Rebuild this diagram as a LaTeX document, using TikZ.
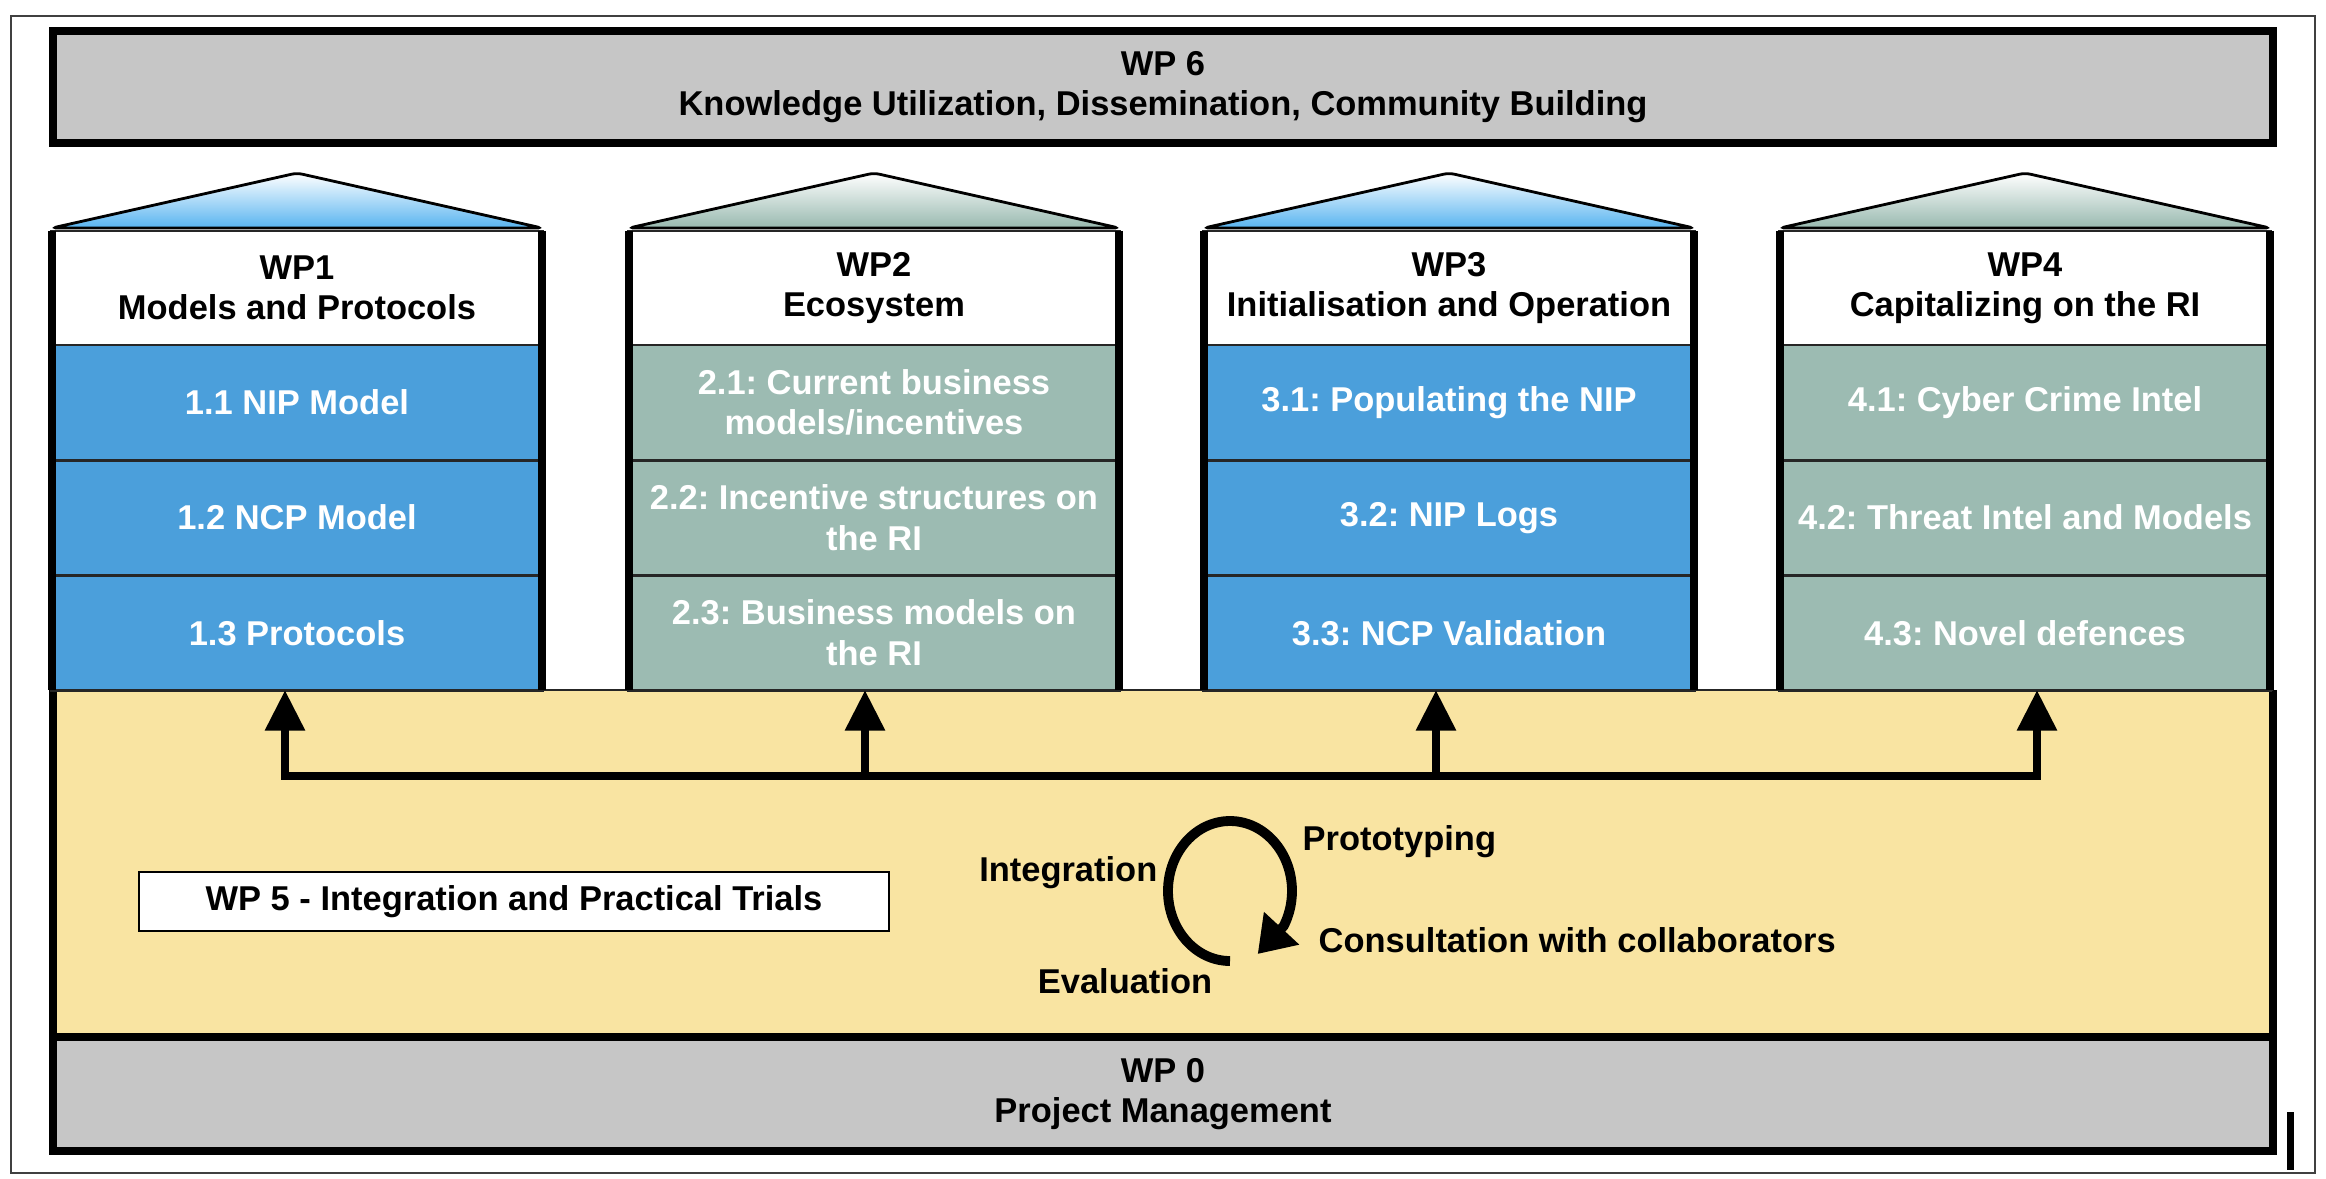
\documentclass[tikz,border=0pt]{standalone}
\usepackage{fontspec}
\setmainfont{Liberation Sans}
\usepackage{tikz}
\usetikzlibrary{arrows.meta, positioning, calc}
\frenchspacing

\definecolor{bandgrey}{HTML}{C6C6C6}
\definecolor{trialyellow}{HTML}{F9E4A2}
\definecolor{taskblue}{HTML}{4B9FDB}
\definecolor{taskgreen}{HTML}{9CBBB2}
\definecolor{roofblue}{HTML}{58B4F0}
\definecolor{roofgreen}{HTML}{98B9AF}

\begin{document}
\begin{tikzpicture}[x=0.01cm, y=-0.01cm,
    font=\fontsize{9.8pt}{11.4pt}\selectfont\bfseries,
    band/.style={draw, line width=2.3pt, fill=bandgrey, minimum width=22.18cm, inner sep=0pt, align=center},
    header/.style={draw=black!85, line width=0.8pt, fill=white, minimum width=4.9cm, minimum height=1.14cm, inner sep=0pt, outer sep=0pt, align=center},
    task/.style={header, text=white, minimum height=1.15cm},
    roof/.style={draw, line width=0.8pt, top color=white, rounded corners=1.5pt},
    heavy/.style={line width=2.3pt},
    feed/.style={line width=2.1pt, -{Triangle[width=11pt, length=11.5pt]}},
    tag/.style={inner sep=0pt}]
    \useasboundingbox (0,0) rectangle (2326,1178);

    \node [fill=trialyellow, minimum width=22.18cm, minimum height=3.47cm, inner sep=0pt, outer sep=0pt] (wp5area) at (1163,863.5) {};
    \node [band, minimum height=1.14cm] (wp0) at (1163,1094) {WP 0\\Project Management};
    \draw [heavy] (wp5area.north west) -- (wp5area.south west);
    \draw [heavy] (wp5area.north east) -- (wp5area.south east);
    \draw [line width=0.8pt, black!85] (wp5area.north west) -- (wp5area.north east);

    \foreach \n/\x/\roof/\task/\hd/\ta/\tb/\tc in {
        1/297/roofblue/taskblue/{WP1\\Models and Protocols}/{1.1 NIP Model}/{1.2 NCP Model}/{1.3 Protocols},
        2/874/roofgreen/taskgreen/{WP2\\Ecosystem}/{2.1: Current business\\models/incentives}/{2.2: Incentive structures on\\the RI}/{2.3: Business models on\\the RI},
        3/1449/roofblue/taskblue/{WP3\\Initialisation and Operation}/{3.1: Populating the NIP}/{3.2: NIP Logs}/{3.3: NCP Validation},
        4/2025/roofgreen/taskgreen/{WP4\\Capitalizing on the RI}/{4.1: Cyber Crime Intel}/{4.2: Threat Intel and Models}/{4.3: Novel defences}} {
        \shadedraw [roof, bottom color=\roof] (\x-245,228) -- (\x,173) -- (\x+245,228) -- cycle;
        \node [header] (wp\n) at (\x,288) {\hd};
        \node [task, fill=\task, below=0pt of wp\n] (t\n1) {\ta};
        \node [task, fill=\task, below=0pt of t\n1] (t\n2) {\tb};
        \node [task, fill=\task, below=0pt of t\n2] (t\n3) {\tc};
        \draw [heavy] (wp\n.north west) -- (t\n3.south west);
        \draw [heavy] (wp\n.north east) -- (t\n3.south east);
    }

    \foreach \n/\x in {1/285, 2/865, 3/1436, 4/2037}
        \coordinate (bus\n) at (\x,776);
    \draw [heavy, line cap=rect] (bus1) -- (bus4);
    \foreach \n in {1,...,4}
        \draw [feed] (bus\n) -- (bus\n |- t\n3.south);

    \node [draw, line width=0.6pt, fill=white, minimum width=7.5cm, minimum height=0.59cm, inner sep=0pt] (wp5) at (514,901.5) {WP 5 - Integration and Practical Trials};

    \coordinate (loop) at (1230,893);
    \draw [line width=2.8pt, -{Triangle[width=13pt, length=10pt]}] ($(loop)+(0,68)$) arc [start angle=90, end angle=390, x radius=62, y radius=70] -- ++(-26,28);
    \node [tag, anchor=base west] (proto) at (1302,850) {Prototyping};
    \node [tag, anchor=base east] (integ) at (1158,881) {Integration};
    \node [tag, anchor=base west] (consult) at (1318,952) {Consultation with collaborators};
    \node [tag, anchor=base] (eval) at (1125,993) {Evaluation};

    \node [band, minimum height=1.12cm] (wp6) at (1163,87) {WP 6\\Knowledge Utilization, Dissemination, Community Building};

    \draw [line width=0.6pt, black!75] (11,16) rectangle (2315,1173);
    \draw [line width=2pt] (2290,1112) -- (2290,1170);
\end{tikzpicture}
\end{document}
